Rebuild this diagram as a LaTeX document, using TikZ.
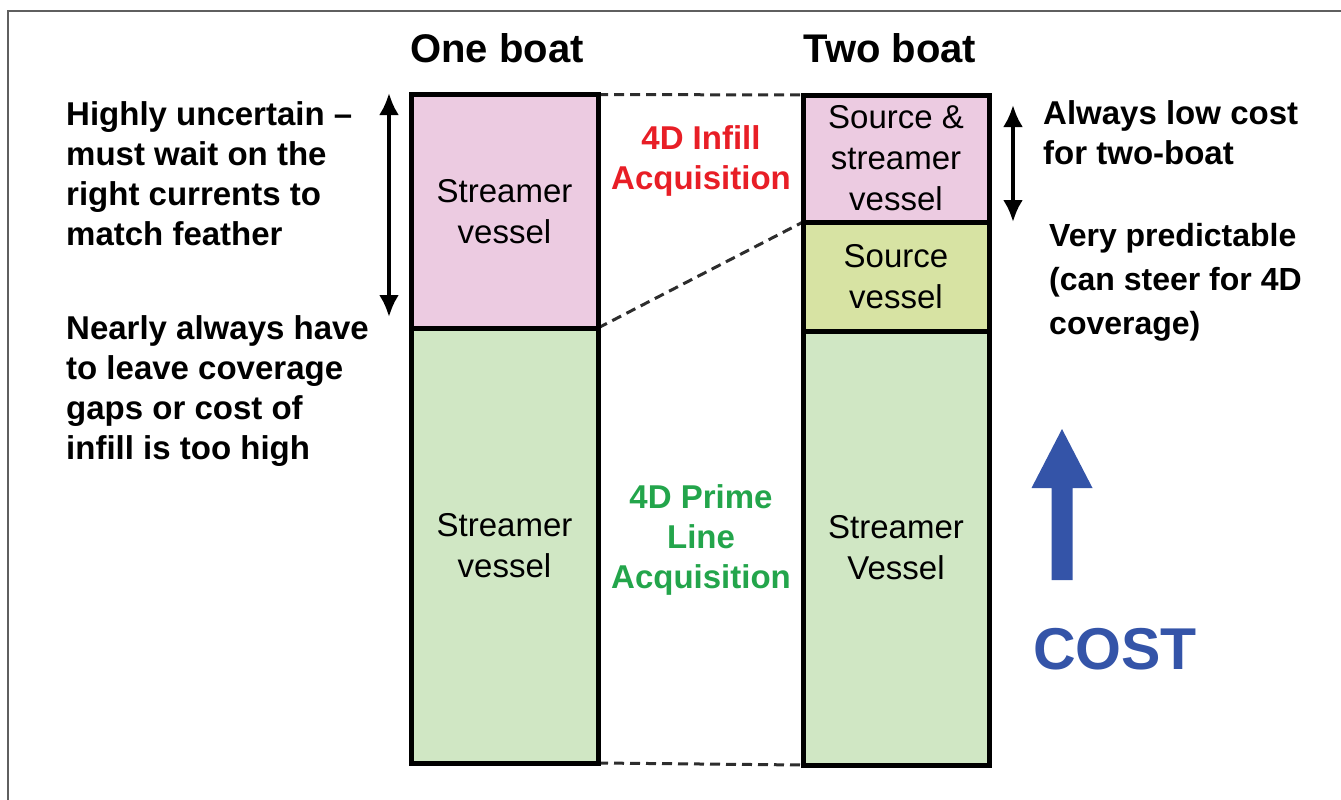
\documentclass[tikz,border=0pt]{standalone}
\usepackage{fontspec}
\setmainfont{Liberation Sans}
\usetikzlibrary{arrows.meta, positioning}

\definecolor{vpink}{RGB}{236,203,225}
\definecolor{vgreen}{RGB}{208,231,196}
\definecolor{vlime}{RGB}{215,227,163}
\definecolor{infillred}{RGB}{232,30,38}
\definecolor{primegreen}{RGB}{35,165,75}
\definecolor{costblue}{RGB}{52,84,168}
\definecolor{framegray}{RGB}{95,95,95}
\definecolor{dashgray}{RGB}{45,45,45}

\begin{document}
\begin{tikzpicture}[x=1pt, y=-1pt,
  slab/.style={draw, line width=5pt, minimum width=187pt, anchor=north west,
               inner sep=0pt, outer sep=0pt, align=center,
               font=\fontsize{33}{41}\selectfont},
  sidenote/.style={anchor=west, inner sep=0pt, align=left,
                   font=\bfseries\fontsize{33}{40}\selectfont},
  midlabel/.style={inner sep=0pt, align=center,
                   font=\bfseries\fontsize{33}{40}\selectfont},
  linkline/.style={dash pattern=on 10pt off 6pt, line width=3pt, dashgray},
  rangearrow/.style={{Latex[width=20pt,length=22pt]}-{Latex[width=20pt,length=22pt]},
                     line width=4pt}]
  \useasboundingbox (0,0) rectangle (1341,800);

  % Frame
  \draw[framegray, line width=1.5pt] (8,800) -- (8,11) -- (1341,11);

  % Column titles
  \node[font=\bfseries\fontsize{40}{48}\selectfont] (oneboat) at (497,48) {One boat};
  \node[font=\bfseries\fontsize{40}{48}\selectfont] (twoboat) at (890,48) {Two boat};

  % Dashed links between the columns
  \coordinate (ltopr) at (598,94.5);
  \coordinate (lmidr) at (598,328);
  \coordinate (lbotr) at (598,763);
  \coordinate (rtopl) at (803,95);
  \coordinate (rmidl) at (803,222);
  \coordinate (rbotl) at (803,765);
  \draw[linkline] (ltopr) -- (rtopl);
  \draw[linkline] (lmidr) -- (rmidl);
  \draw[linkline] (lbotr) -- (rbotl);

  % One boat column
  \node[slab, fill=vgreen, minimum height=435pt] (lprime) at (411,328) {Streamer\\vessel};
  \node[slab, fill=vpink, minimum height=233.5pt] (linfill) at (411,94.5) {Streamer\\vessel};

  % Two boat column
  \node[slab, fill=vgreen, minimum height=434pt, minimum width=186pt] (rprime) at (803,331) {Streamer\\Vessel};
  \node[slab, fill=vlime, minimum height=109pt, minimum width=186pt] (rsource) at (803,222) {Source\\vessel};
  \node[slab, fill=vpink, minimum height=127pt, minimum width=186pt] (rinfill) at (803,95) {Source \&\\streamer\\vessel};

  % Middle labels
  \node[midlabel, infillred] (infill) at (701,160.5) {4D Infill\\Acquisition};
  \node[midlabel, primegreen] (prime) at (701,540) {4D Prime\\Line\\Acquisition};

  % Side notes
  \node[sidenote] (uncertain) at (66,174) {Highly uncertain –\\must wait on the\\right currents to\\match feather};
  \node[sidenote] (gaps) at (66,391.5) {Nearly always have\\to leave coverage\\gaps or cost of\\infill is too high};
  \node[sidenote] (lowcost) at (1043,133) {Always low cost\\for two-boat};
  \node[sidenote, font=\bfseries\fontsize{32}{44}\selectfont] (predictable) at (1049,282)
    {Very predictable\\(can steer for 4D\\coverage)};

  % Range arrows
  \coordinate (lrangetop) at (389,93);
  \coordinate (lrangebot) at (389,317);
  \coordinate (rrangetop) at (1013,105);
  \coordinate (rrangebot) at (1013,222);
  \draw[rangearrow] (lrangetop) -- (lrangebot);
  \draw[rangearrow] (rrangetop) -- (rrangebot);

  % Cost arrow
  \fill[costblue] (1051.5,580) -- (1051.5,488) -- (1031.5,488) -- (1062,429)
    -- (1092.5,488) -- (1072.5,488) -- (1072.5,580) -- cycle;
  \node[font=\bfseries\fontsize{59}{70}\selectfont, costblue] (cost) at (1115,649) {COST};
\end{tikzpicture}
\end{document}
